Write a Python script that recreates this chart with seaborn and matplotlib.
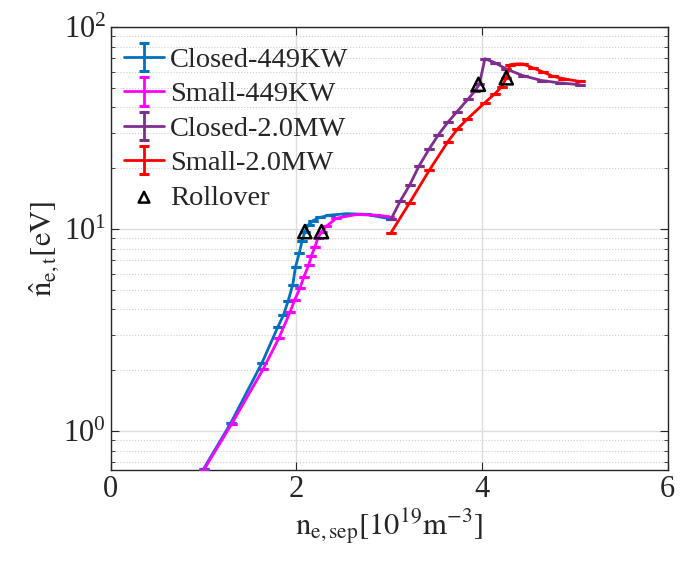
import seaborn as sns
import matplotlib.pyplot as plt
import numpy as np
from matplotlib.ticker import LogLocator, NullFormatter

# data
closed_449_x = [1.00, 1.29, 1.63, 1.80, 1.86, 1.91, 1.96, 1.99, 2.03, 2.06, 2.09, 2.13, 2.18, 2.25, 2.36, 2.54, 2.75, 3.02]
closed_449_y = [0.65, 1.09, 2.18, 3.28, 3.75, 4.40, 5.30, 6.50, 7.60, 8.70, 9.70, 10.5, 11.0, 11.4, 11.7, 11.9, 11.8, 11.2]

small_449_x = [1.00, 1.30, 1.64, 1.81, 1.93, 1.98, 2.04, 2.08, 2.13, 2.16, 2.20, 2.23, 2.27, 2.32, 2.43, 2.65, 2.85, 3.00]
small_449_y = [0.64, 1.08, 2.02, 2.88, 3.87, 4.45, 5.13, 5.80, 6.60, 7.35, 8.18, 9.00, 9.70, 10.3, 11.3, 11.8, 11.7, 11.5]

closed_2mw_x = [3.02, 3.12, 3.22, 3.32, 3.43, 3.53, 3.63, 3.73, 3.85, 3.92, 3.97, 4.03, 4.14, 4.26, 4.44, 4.64, 4.84, 5.05]
closed_2mw_y = [11.2, 13.8, 16.5, 20.5, 24.9, 29.3, 33.7, 38.1, 44.0, 48.0, 52.0, 69.6, 66.4, 61.9, 57.4, 54.3, 52.8, 51.8]

small_2mw_x = [3.02, 3.22, 3.43, 3.63, 3.73, 3.84, 4.03, 4.14, 4.21, 4.26, 4.30, 4.37, 4.44, 4.55, 4.66, 4.76, 4.87, 5.05]
small_2mw_y = [9.6, 13.5, 19.5, 27.0, 31.1, 35.0, 42.2, 46.8, 50.6, 55.8, 65.0, 65.6, 65.6, 62.6, 59.7, 57.0, 55.5, 53.7]

rollover_x = [2.09, 2.27, 3.96, 4.26]
rollover_y = [9.7, 9.7, 52.0, 56.0]

series = [
    ("Closed-449KW", closed_449_x, closed_449_y, "#0072BD"),
    ("Small-449KW", small_449_x, small_449_y, "#FF00FF"),
    ("Closed-2.0MW", closed_2mw_x, closed_2mw_y, "#7E2F8E"),
    ("Small-2.0MW", small_2mw_x, small_2mw_y, "#FF0000"),
]

sns.set_style("ticks")
plt.rcParams['font.family'] = ['Liberation Serif', 'DejaVu Serif']
plt.rcParams['mathtext.fontset'] = 'stix'

fig = plt.figure(figsize=(6.8, 5.61), dpi=100)
ax = fig.add_axes([0.163, 0.162, 0.819, 0.790])

handles = []
for label, xs, ys, col in series:
    h = ax.errorbar(xs, ys, yerr=[0.0] * len(xs), color=col, lw=2, capsize=3.5,
                    capthick=2.2, label=label, zorder=3)
    handles.append(h)

# rollover points
sns.scatterplot(x=rollover_x, y=rollover_y, marker='^', s=90, facecolor='none',
                edgecolor='black', linewidth=1.8, ax=ax, zorder=5, legend=False)
tri = ax.scatter([], [], marker='^', s=60, facecolor='none', edgecolor='black',
                 linewidth=1.8, label='Rollover')
handles.append(tri)

ax.set_yscale('log')
ax.set_xlim(0, 6)
ax.set_ylim(0.64, 100)
ax.set_xticks([0, 2, 4, 6])
ax.yaxis.set_minor_locator(LogLocator(base=10, subs=np.arange(2, 10)))
ax.yaxis.set_minor_formatter(NullFormatter())

ax.grid(True, which='major', color='#dddddd', lw=1, ls='-')
ax.grid(True, which='minor', axis='y', color='#cccccc', lw=0.8, ls=':')
ax.set_axisbelow(True)

ax.tick_params(which='both', direction='in', top=True, right=True,
               labelsize=22, colors='#262626')
ax.tick_params(which='major', length=6)
ax.tick_params(which='minor', length=3)
for sp in ax.spines.values():
    sp.set_color('#262626')
    sp.set_linewidth(1)

ax.set_xlabel(r'$\mathrm{n_{e,sep}[10^{19}m^{-3}]}$', fontsize=22, labelpad=2)
ax.set_ylabel(r'$\mathrm{\hat{n}_{e,t}[eV]}$', fontsize=22, labelpad=2)

ax.legend(handles=handles, loc='upper left', bbox_to_anchor=(-0.012, 1.0),
          frameon=False, fontsize=20.5, handlelength=1.4, handletextpad=0.2,
          labelspacing=0.3, borderaxespad=0.3)

fig.savefig('out.png', dpi=100)
